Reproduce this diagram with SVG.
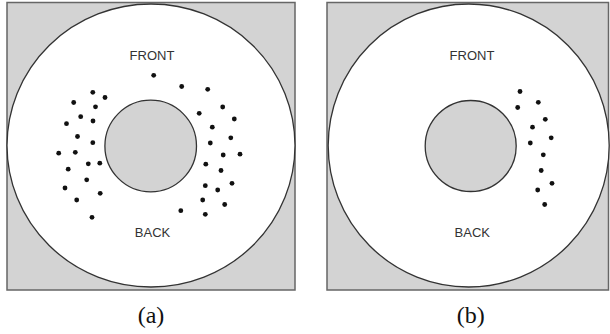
<svg xmlns="http://www.w3.org/2000/svg" width="610" height="334" viewBox="0 0 610 334">
<style>
.bg{fill:#d3d3d3;stroke:#666;stroke-width:1.5}
.outer{fill:#fff;stroke:#333;stroke-width:1.3}
.inner{fill:#d3d3d3;stroke:#333;stroke-width:1.3}
.lbl{font-family:"Liberation Sans",Arial,sans-serif;font-size:13px;fill:#333;text-anchor:middle}
.cap{font-family:"Liberation Serif","Times New Roman",serif;font-size:24px;fill:#111;text-anchor:middle}
.d{fill:#111}
</style>
<rect width="610" height="334" fill="#fff"/>
<g id="panel-a">
<rect class="bg" x="7" y="2.5" width="288" height="287.5"/>
<ellipse class="outer" cx="151" cy="145.5" rx="144" ry="141.5"/>
<circle class="inner" cx="150.7" cy="146" r="45.8"/>
<text class="lbl" x="152" y="60">FRONT</text>
<text class="lbl" x="152.5" y="236.5">BACK</text>
<g id="dots-a">
<circle class="d" cx="153.7" cy="75.3" r="2.4"/>
<circle class="d" cx="181.7" cy="86.5" r="2.4"/>
<circle class="d" cx="207.7" cy="89.3" r="2.4"/>
<circle class="d" cx="222.7" cy="107" r="2.4"/>
<circle class="d" cx="199.2" cy="113.3" r="2.4"/>
<circle class="d" cx="234.3" cy="119" r="2.4"/>
<circle class="d" cx="212.3" cy="127.2" r="2.4"/>
<circle class="d" cx="230.8" cy="137.8" r="2.4"/>
<circle class="d" cx="210.3" cy="143" r="2.4"/>
<circle class="d" cx="223.2" cy="155" r="2.4"/>
<circle class="d" cx="240" cy="154.2" r="2.4"/>
<circle class="d" cx="205.8" cy="164.2" r="2.4"/>
<circle class="d" cx="221" cy="170.5" r="2.4"/>
<circle class="d" cx="232" cy="183.3" r="2.4"/>
<circle class="d" cx="205.3" cy="185.7" r="2.4"/>
<circle class="d" cx="217.7" cy="190" r="2.4"/>
<circle class="d" cx="202.7" cy="200" r="2.4"/>
<circle class="d" cx="224.7" cy="204.5" r="2.4"/>
<circle class="d" cx="180.8" cy="210.7" r="2.4"/>
<circle class="d" cx="205.3" cy="214.3" r="2.4"/>
<circle class="d" cx="92.8" cy="92.3" r="2.4"/>
<circle class="d" cx="105" cy="97.5" r="2.4"/>
<circle class="d" cx="73.7" cy="102.5" r="2.4"/>
<circle class="d" cx="95.5" cy="106.8" r="2.4"/>
<circle class="d" cx="80.7" cy="116.7" r="2.4"/>
<circle class="d" cx="93" cy="121" r="2.4"/>
<circle class="d" cx="66.5" cy="123.7" r="2.4"/>
<circle class="d" cx="77.5" cy="136.5" r="2.4"/>
<circle class="d" cx="92.8" cy="142.7" r="2.4"/>
<circle class="d" cx="58.7" cy="153.2" r="2.4"/>
<circle class="d" cx="75.3" cy="152.3" r="2.4"/>
<circle class="d" cx="88.3" cy="163.8" r="2.4"/>
<circle class="d" cx="99.8" cy="163.2" r="2.4"/>
<circle class="d" cx="68.2" cy="169.2" r="2.4"/>
<circle class="d" cx="86.7" cy="179.8" r="2.4"/>
<circle class="d" cx="65" cy="188" r="2.4"/>
<circle class="d" cx="100.2" cy="193.3" r="2.4"/>
<circle class="d" cx="76.7" cy="200" r="2.4"/>
<circle class="d" cx="92" cy="217.3" r="2.4"/>
</g>
<text class="cap" x="151" y="323">(a)</text>
</g>
<g id="panel-b">
<rect class="bg" x="327" y="2.5" width="281.5" height="287.5"/>
<ellipse class="outer" cx="468.7" cy="145.5" rx="140.5" ry="141.5"/>
<circle class="inner" cx="470.7" cy="146" r="45.5"/>
<text class="lbl" x="472" y="60">FRONT</text>
<text class="lbl" x="472.3" y="236.5">BACK</text>
<g id="dots-b">
<circle class="d" cx="520" cy="91.5" r="2.4"/>
<circle class="d" cx="538.3" cy="102.3" r="2.4"/>
<circle class="d" cx="517.7" cy="107.5" r="2.4"/>
<circle class="d" cx="545.3" cy="119.3" r="2.4"/>
<circle class="d" cx="532.5" cy="127.2" r="2.4"/>
<circle class="d" cx="551.2" cy="137.8" r="2.4"/>
<circle class="d" cx="530.3" cy="143" r="2.4"/>
<circle class="d" cx="543.3" cy="154.8" r="2.4"/>
<circle class="d" cx="541.2" cy="170.5" r="2.4"/>
<circle class="d" cx="552" cy="183.3" r="2.4"/>
<circle class="d" cx="537.7" cy="190" r="2.4"/>
<circle class="d" cx="544.7" cy="204.5" r="2.4"/>
</g>
<text class="cap" x="470.7" y="323">(b)</text>
</g>
</svg>
